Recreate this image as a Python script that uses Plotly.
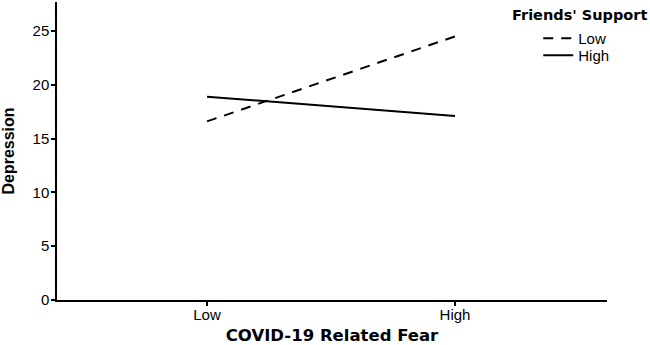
import plotly.graph_objects as go

categories = ["Low", "High"]
low_support = [16.6, 24.5]
high_support = [18.9, 17.1]
y_ticks = [0, 5, 10, 15, 20, 25]

x_pos = [0, 1]

fig = go.Figure()
fig.add_trace(go.Scatter(
    x=x_pos, y=low_support, mode="lines", name="Low", legend="legend",
    line=dict(color="black", width=2, dash="10px,8px"),
))
fig.add_trace(go.Scatter(
    x=x_pos, y=high_support, mode="lines", name="High", legend="legend2",
    line=dict(color="black", width=2),
))

leg_common = dict(
    xanchor="left", yanchor="top", xref="paper", yref="paper",
    font=dict(size=15, color="black"), itemwidth=30,
    bgcolor="rgba(0,0,0,0)", borderwidth=0,
)

fig.update_layout(
    width=650, height=345,
    margin=dict(l=57, r=43, t=2, b=45, autoexpand=False),
    paper_bgcolor="white", plot_bgcolor="white",
    font=dict(family="Liberation Sans, Arial, sans-serif", size=14, color="black"),
    showlegend=True,
    legend=dict(x=0.875, y=0.933, **leg_common),
    legend2=dict(x=0.875, y=0.876, **leg_common),
    xaxis=dict(
        range=[-0.605, 1.613], tickmode="array", tickvals=x_pos, ticktext=categories,
        showline=True, linecolor="black", linewidth=1.5, ticks="outside",
        ticklen=4, tickcolor="black", tickwidth=1.5, showgrid=False, zeroline=False,
        tickfont=dict(size=15), ticklabelstandoff=-4,
        title=dict(text="<b>COVID-19 Related Fear</b>",
                   font=dict(family="DejaVu Sans, sans-serif", size=16.5), standoff=18),
    ),
    yaxis=dict(
        range=[0, 27.7], tickmode="array", tickvals=y_ticks,
        showline=True, linecolor="black", linewidth=1.5, ticks="outside",
        ticklen=4, tickcolor="black", tickwidth=1.5, showgrid=False, zeroline=False,
        tickfont=dict(size=15), ticklabelstandoff=-1,
        title=dict(text="<b>Depression</b>",
                   font=dict(family="Liberation Sans, Arial, sans-serif", size=16), standoff=14),
    ),
)

fig.add_annotation(
    text="<b>Friends' Support</b>", xref="paper", yref="paper",
    x=0.8236, y=0.956, xanchor="left", yanchor="middle", showarrow=False,
    font=dict(family="DejaVu Sans, sans-serif", size=14.5, color="black"),
)

fig.write_html("out.html", config={"displayModeBar": False},
               post_script="document.body.style.margin='0';document.body.style.overflow='hidden';")
